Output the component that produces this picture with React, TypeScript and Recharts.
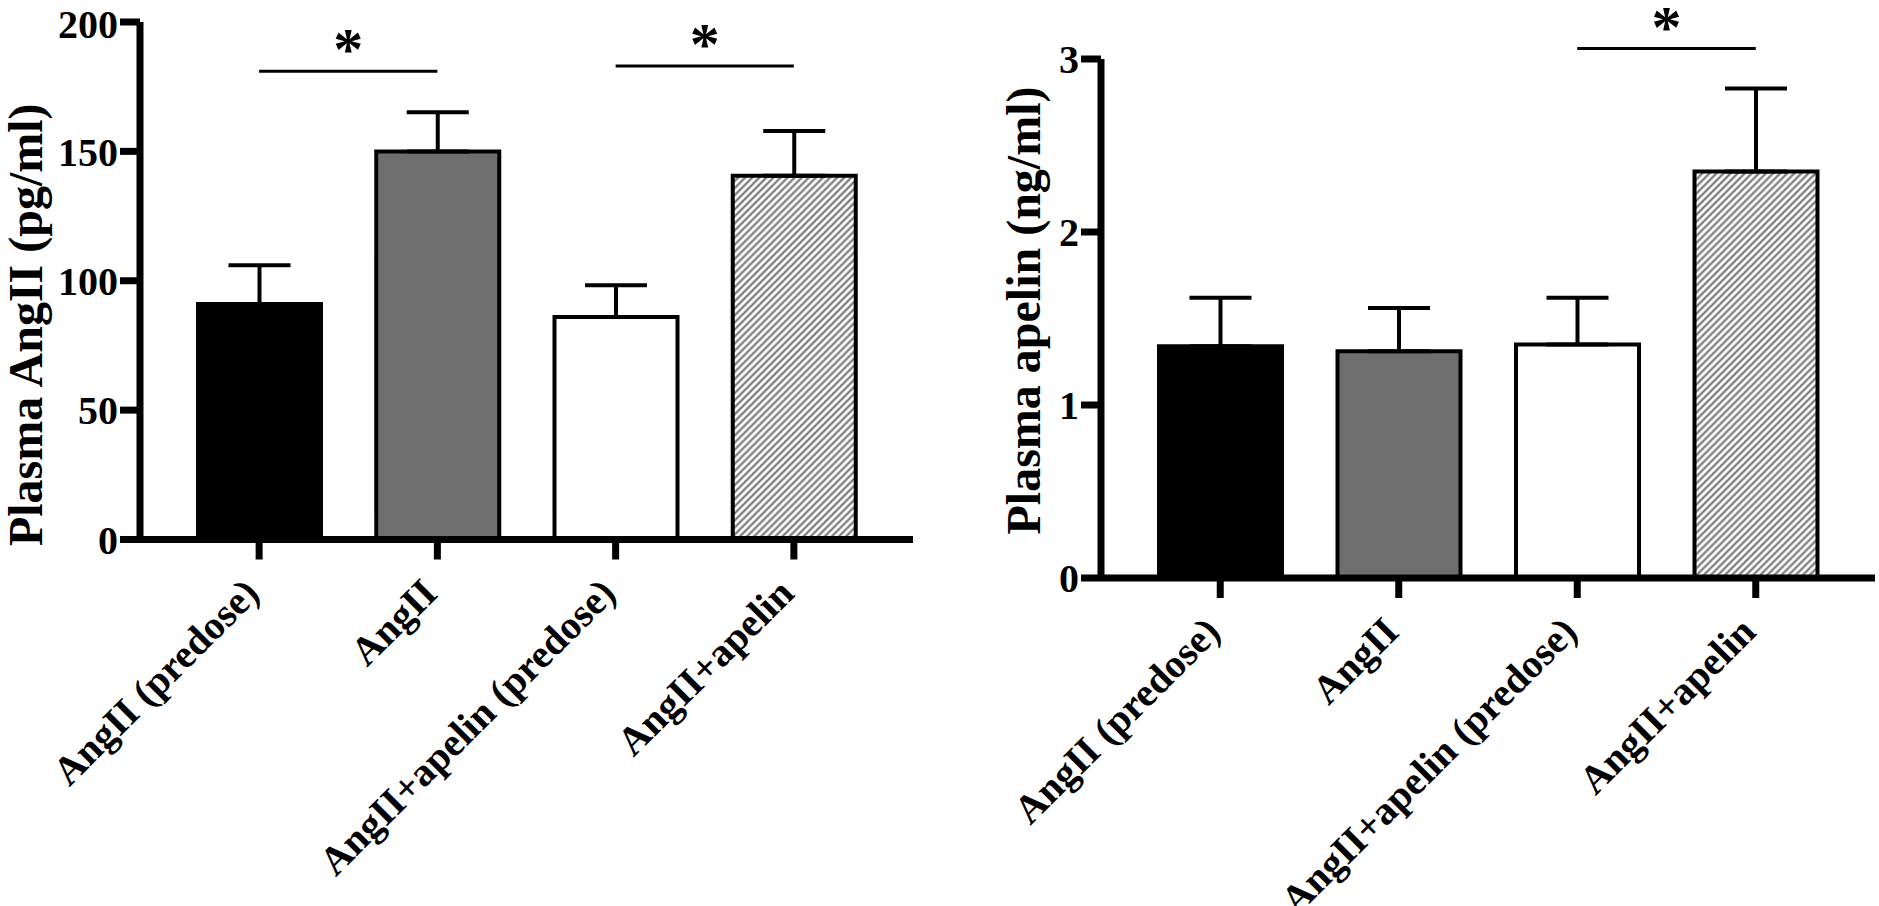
import { BarChart, Bar, XAxis, YAxis, ErrorBar, Cell, ReferenceLine } from "recharts";

const categories = ["AngII (predose)", "AngII", "AngII+apelin (predose)", "AngII+apelin"];

// left panel: plasma AngII (pg/ml)
const angMean = [91, 150, 86, 140.6];
const angSem = [15, 15.1, 12.3, 17.3];
const angTicks = [0, 50, 100, 150, 200];

// right panel: plasma apelin (ng/ml)
const apelinMean = [1.34, 1.31, 1.35, 2.35];
const apelinSem = [0.28, 0.25, 0.27, 0.48];
const apelinTicks = [0, 1, 2, 3];

// significance bars: [from index, to index, height]
const angSig = [
  { from: 0, to: 1, y: 181 },
  { from: 2, to: 3, y: 183 },
];
const apelinSig = [{ from: 2, to: 3, y: 3.06 }];

const FONT = '"Liberation Serif", "Times New Roman", serif';

function fills(id: string) {
  return ["#000000", "#6e6e6e", "#ffffff", `url(#${id})`];
}

function buildRows(mean: number[], sem: number[]) {
  return categories.map((name, i) => ({ name, mean: mean[i], err: [0, sem[i]] }));
}

const XTick = ({ x, y, payload }: any) => (
  <g transform={`translate(${x},${y})`}>
    <text
      x={2}
      y={36}
      transform="rotate(-45, 2, 36)"
      textAnchor="end"
      fontFamily={FONT}
      fontWeight="bold"
      fontSize={40}
      fill="#000"
    >
      {payload.value}
    </text>
  </g>
);

function yLabel(text: string, dx: number, shift: number) {
  return ({ viewBox }: any) => {
    const x = viewBox.x + dx;
    const y = viewBox.y + viewBox.height / 2 + shift;
    return (
      <text
        x={x}
        y={y}
        transform={`rotate(-90, ${x}, ${y})`}
        textAnchor="middle"
        fontFamily={FONT}
        fontWeight="bold"
        fontSize={48}
        fill="#000"
      >
        {text}
      </text>
    );
  };
}

const Star = ({ viewBox }: any) => (
  <text
    x={viewBox.x + viewBox.width / 2}
    y={viewBox.y - 2}
    textAnchor="middle"
    fontFamily={FONT}
    fontWeight="bold"
    fontSize={60}
    fill="#000"
  >
    *
  </text>
);

interface PanelProps {
  mean: number[];
  sem: number[];
  ticks: number[];
  sig: { from: number; to: number; y: number }[];
  label: string;
  labelDx: number;
  labelShift: number;
  hatchId: string;
  width: number;
  yWidth: number;
  margin: { top: number; right: number; bottom: number; left: number };
  xHeight: number;
}

function Panel(p: PanelProps) {
  const rows = buildRows(p.mean, p.sem);
  const colors = fills(p.hatchId);
  const axisLine = { stroke: "#000", strokeWidth: 7 };
  return (
    <BarChart width={p.width} height={906} data={rows} margin={p.margin}>
      <defs>
        <pattern id={p.hatchId} patternUnits="userSpaceOnUse" width={5} height={5} patternTransform="rotate(45)">
          <rect width={5} height={5} fill="#fff" />
          <line x1={2.5} y1={0} x2={2.5} y2={5} stroke="#6a6a6a" strokeWidth={2} />
        </pattern>
      </defs>
      <XAxis
        dataKey="name"
        height={p.xHeight}
        padding={{ left: 30, right: 30 }}
        axisLine={axisLine}
        tickLine={axisLine}
        tickSize={20}
        tickMargin={0}
        interval={0}
        tick={<XTick />}
      />
      <YAxis
        width={p.yWidth}
        domain={[p.ticks[0], p.ticks[p.ticks.length - 1]]}
        ticks={p.ticks}
        allowDataOverflow
        axisLine={axisLine}
        tickLine={axisLine}
        tickSize={20}
        tickMargin={2}
        tick={{ fontSize: 40, fontWeight: "bold", fill: "#000", fontFamily: FONT }}
        label={{ content: yLabel(p.label, p.labelDx, p.labelShift) }}
      />
      <Bar dataKey="mean" barSize={123} stroke="#000" strokeWidth={4} isAnimationActive={false}>
        {rows.map((r, i) => (
          <Cell key={r.name} fill={colors[i]} />
        ))}
        <ErrorBar dataKey="err" direction="y" width={31} stroke="#000" strokeWidth={4} isAnimationActive={false} />
      </Bar>
      {p.sig.map((s) => (
        <ReferenceLine
          key={`${s.from}-${s.to}`}
          segment={[
            { x: categories[s.from], y: s.y },
            { x: categories[s.to], y: s.y },
          ]}
          stroke="#000"
          strokeWidth={3}
          ifOverflow="visible"
          label={<Star />}
        />
      ))}
    </BarChart>
  );
}

export default function App() {
  return (
    <div style={{ position: "absolute", left: 0, top: 0, width: 1879, height: 906, background: "#fff" }}>
      <div style={{ position: "absolute", left: 0, top: 0 }}>
        <Panel
          mean={angMean}
          sem={angSem}
          ticks={angTicks}
          sig={angSig}
          label="Plasma AngII (pg/ml)"
          labelDx={42}
          labelShift={44}
          hatchId="hatchAng"
          width={960}
          yWidth={140}
          margin={{ top: 22, right: 47, bottom: 6.5, left: 0 }}
          xHeight={360}
        />
      </div>
      <div style={{ position: "absolute", left: 960, top: 0 }}>
        <Panel
          mean={apelinMean}
          sem={apelinSem}
          ticks={apelinTicks}
          sig={apelinSig}
          label="Plasma apelin (ng/ml)"
          labelDx={80}
          labelShift={-8}
          hatchId="hatchApelin"
          width={919}
          yWidth={141}
          margin={{ top: 59, right: 4, bottom: 0, left: 0 }}
          xHeight={328}
        />
      </div>
    </div>
  );
}
